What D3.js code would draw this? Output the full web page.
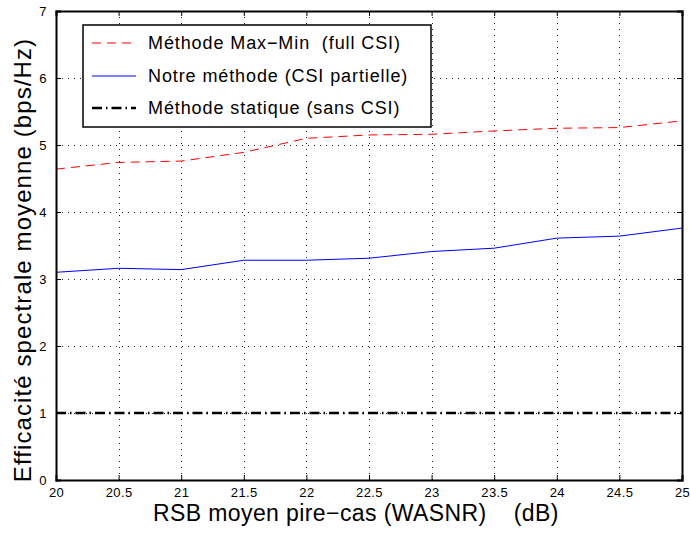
<!DOCTYPE html>
<html>
<head>
<meta charset="utf-8">
<script src="https://cdn.jsdelivr.net/npm/d3@7"></script>
<style>
  body { margin: 0; background: #fff; }
  svg { font-family: 'Liberation Sans', Arial, sans-serif; }
</style>
</head>
<body>
<div id="chart"></div>
<script>
// valeurs
const snr = [20, 20.5, 21, 21.5, 22, 22.5, 23, 23.5, 24, 24.5, 25];
const maxMin = [4.64, 4.74, 4.76, 4.89, 5.10, 5.15, 5.16, 5.21, 5.25, 5.26, 5.36];
const notre = [3.10, 3.16, 3.14, 3.28, 3.28, 3.31, 3.41, 3.46, 3.61, 3.64, 3.76];
const statique = [1, 1, 1, 1, 1, 1, 1, 1, 1, 1, 1];
const xTicks = [20, 20.5, 21, 21.5, 22, 22.5, 23, 23.5, 24, 24.5, 25];
const yTicks = [0, 1, 2, 3, 4, 5, 6, 7];
const legendLabels = ['Méthode Max\u2212Min  (full CSI)', 'Notre méthode (CSI partielle)', 'Méthode statique (sans CSI)'];

const width = 690;
const height = 535;
const margin = { top: 11, right: 8, bottom: 55, left: 56 };

const svg = d3.select('#chart').append('svg')
  .attr('width', width)
  .attr('height', height);

const x = d3.scaleLinear().domain([20, 25]).range([margin.left, width - margin.right]);
const y = d3.scaleLinear().domain([0, 7]).range([height - margin.bottom, margin.top]);

// grille pointillée
const grid = svg.append('g').attr('class', 'grid')
  .attr('stroke', '#222').attr('stroke-width', 1).attr('stroke-dasharray', '1,5');
grid.selectAll('line.v').data(xTicks.slice(1, -1)).enter().append('line')
  .attr('x1', (d) => Math.round(x(d)) + 0.5).attr('x2', (d) => Math.round(x(d)) + 0.5)
  .attr('y1', y(0)).attr('y2', y(7));
grid.selectAll('line.h').data(yTicks.slice(1, -1)).enter().append('line')
  .attr('y1', (d) => Math.round(y(d)) + 0.5).attr('y2', (d) => Math.round(y(d)) + 0.5)
  .attr('x1', x(20)).attr('x2', x(25));

// courbes
const line = (vals) => d3.line()
  .x((d, i) => x(snr[i]))
  .y((d) => y(d))(vals);

svg.append('path').attr('d', line(statique))
  .attr('fill', 'none').attr('stroke', '#000').attr('stroke-width', 2.5)
  .attr('stroke-dasharray', '10,4,1.5,4');
svg.append('path').attr('d', line(maxMin))
  .attr('fill', 'none').attr('stroke', '#ff0000').attr('stroke-width', 1)
  .attr('stroke-dasharray', '9,6');
svg.append('path').attr('d', line(notre))
  .attr('fill', 'none').attr('stroke', '#0000ff').attr('stroke-width', 1);

// axes (ticks vers l'intérieur, sur les 4 côtés)
const fmt = (d) => d;
svg.append('g').attr('class', 'ax').attr('transform', `translate(0,${y(0)})`)
  .call(d3.axisBottom(x).tickValues(xTicks).tickSize(-5).tickPadding(8).tickFormat(fmt));
svg.append('g').attr('transform', `translate(0,${y(7)})`)
  .call(d3.axisTop(x).tickValues(xTicks).tickSize(-5).tickFormat(''));
svg.append('g').attr('class', 'ax').attr('transform', `translate(${x(20)},0)`)
  .call(d3.axisLeft(y).tickValues(yTicks).tickSize(-5).tickPadding(9).tickFormat(fmt));
svg.append('g').attr('transform', `translate(${x(25)},0)`)
  .call(d3.axisRight(y).tickValues(yTicks).tickSize(-5).tickFormat(''));

svg.selectAll('.domain').attr('stroke', '#000').attr('stroke-width', 2);
svg.selectAll('.tick line').attr('stroke', '#000');
svg.selectAll('.ax').attr('font-size', null).attr('font-family', null);
svg.selectAll('.ax .tick text')
  .style('font-size', '13px')
  .style('letter-spacing', '0.4px')
  .style('font-family', "'Liberation Sans', Arial, sans-serif")
  .attr('fill', '#000');

// titres des axes
svg.append('text')
  .attr('x', 153).attr('y', 521)
  .style('font-size', '23px')
  .style('letter-spacing', '0.4px')
  .attr('xml:space', 'preserve')
  .text('RSB moyen pire\u2212cas (WASNR)    (dB)');
svg.append('text')
  .attr('transform', `translate(31,${260}) rotate(-90)`)
  .attr('text-anchor', 'middle')
  .style('font-size', '24px')
  .style('letter-spacing', '1.1px')
  .text('Efficacité spectrale moyenne (bps/Hz)');

// légende
const leg = svg.append('g').attr('class', 'legend');
leg.append('rect')
  .attr('x', 83).attr('y', 25).attr('width', 348).attr('height', 102)
  .attr('fill', '#fff').attr('stroke', '#000').attr('stroke-width', 1.5);

const legStyles = [
  { color: '#ff0000', w: 1, dash: '9,6' },
  { color: '#0000ff', w: 1, dash: null },
  { color: '#000', w: 2.5, dash: '10,4,1.5,4' }
];
const legRows = [43, 76, 108];

leg.selectAll('line').data(legStyles).enter().append('line')
  .attr('x1', 92).attr('x2', 136)
  .attr('y1', (d, i) => legRows[i]).attr('y2', (d, i) => legRows[i])
  .attr('stroke', (d) => d.color)
  .attr('stroke-width', (d) => d.w)
  .attr('stroke-dasharray', (d) => d.dash);

leg.selectAll('text').data(legendLabels).enter().append('text')
  .attr('x', 148).attr('y', (d, i) => legRows[i] + 6)
  .style('font-size', '18px')
  .style('letter-spacing', '0.9px')
  .attr('xml:space', 'preserve')
  .text((d) => d);
</script>
</body>
</html>
